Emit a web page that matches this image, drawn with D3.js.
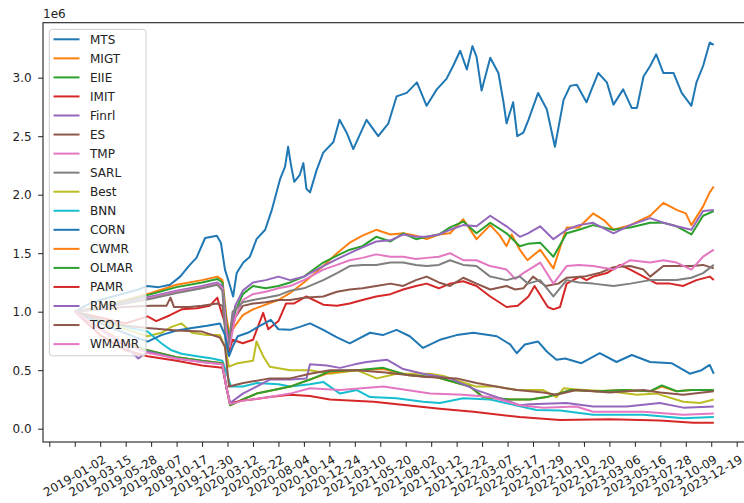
<!DOCTYPE html>
<html>
<head>
<meta charset="utf-8">
<script src="https://cdn.jsdelivr.net/npm/d3@7"></script>
<style>
  body { margin: 0; background: #fff; }
  svg text { font-family: "DejaVu Sans", sans-serif; fill: #222; }
</style>
</head>
<body>
<script>
// portfolio value per strategy, in units of 1e6, keyed by trading-day index
var seriesNames = ['MTS','MIGT','EIIE','IMIT','Finrl','ES','TMP','SARL','Best','BNN','CORN','CWMR','OLMAR','PAMR','RMR','TCO1','WMAMR']

var dateLabels = ['2019-01-02','2019-03-15','2019-05-28','2019-08-07','2019-10-17','2019-12-30','2020-03-12','2020-05-22','2020-08-04','2020-10-14','2020-12-24','2021-03-10','2021-05-20','2021-08-02','2021-10-12','2021-12-22','2022-03-07','2022-05-17','2022-07-29','2022-10-10','2022-12-20','2023-03-06','2023-05-16','2023-07-28','2023-10-09','2023-12-19']

var yTicks = [0, 0.5, 1.0, 1.5, 2.0, 2.5, 3.0]

var MTS = [[0,1.00],[25,1.06],[50,1.10],[75,1.13],[100,1.16],[125,1.19],[142,1.22],[165,1.21],[187,1.23],[207,1.30],[226,1.40],[239,1.46],[256,1.63],[279,1.65],[287,1.59],[295,1.36],[305,1.22],[311,1.13],[318,1.33],[331,1.42],[344,1.47],[357,1.62],[374,1.70],[387,1.87],[403,2.13],[413,2.24],[419,2.41],[424,2.27],[431,2.11],[442,2.17],[449,2.27],[455,2.05],[462,2.02],[475,2.21],[488,2.36],[508,2.45],[520,2.64],[534,2.53],[547,2.39],[573,2.64],[596,2.50],[616,2.61],[632,2.84],[652,2.87],[672,2.96],[691,2.76],[711,2.90],[730,2.99],[743,3.10],[757,3.23],[770,3.07],[781,3.27],[789,3.18],[799,2.89],[816,3.17],[832,3.04],[842,2.79],[848,2.61],[861,2.79],[869,2.50],[881,2.53],[891,2.64],[910,2.87],[927,2.73],[943,2.41],[960,2.81],[973,2.93],[986,2.94],[1005,2.79],[1015,2.90],[1028,3.04],[1045,2.96],[1058,2.77],[1077,2.90],[1094,2.74],[1104,2.74],[1117,3.01],[1130,3.10],[1142,3.20],[1156,3.04],[1176,3.04],[1192,2.87],[1211,2.76],[1221,2.96],[1234,3.10],[1247,3.30],[1255,3.28]]
var MIGT = [[0,1.00],[50,1.05],[100,1.10],[150,1.16],[200,1.23],[250,1.27],[280,1.30],[290,1.27],[298,0.95],[304,0.80],[315,0.88],[330,0.97],[350,1.02],[375,1.06],[400,1.10],[423,1.16],[450,1.25],[488,1.39],[515,1.50],[540,1.59],[565,1.65],[592,1.70],[620,1.66],[645,1.67],[670,1.65],[691,1.62],[715,1.66],[737,1.67],[763,1.79],[789,1.62],[816,1.74],[835,1.65],[848,1.56],[858,1.66],[874,1.53],[889,1.44],[914,1.53],[940,1.37],[966,1.72],[990,1.72],[1018,1.84],[1040,1.78],[1058,1.70],[1091,1.74],[1130,1.82],[1156,1.93],[1182,1.87],[1200,1.84],[1211,1.74],[1234,1.90],[1247,2.02],[1255,2.07]]
var EIIE = [[0,1.00],[50,1.04],[100,1.09],[150,1.15],[200,1.21],[250,1.25],[280,1.28],[290,1.25],[298,0.90],[304,0.75],[315,1.00],[330,1.15],[350,1.22],[375,1.20],[400,1.22],[423,1.25],[450,1.30],[488,1.42],[515,1.48],[540,1.53],[565,1.56],[592,1.64],[620,1.60],[645,1.67],[670,1.62],[691,1.64],[715,1.66],[737,1.72],[763,1.77],[789,1.67],[816,1.76],[848,1.67],[874,1.56],[890,1.58],[914,1.59],[940,1.47],[966,1.67],[990,1.70],[1018,1.74],[1058,1.70],[1091,1.72],[1130,1.76],[1156,1.76],[1182,1.73],[1211,1.66],[1234,1.82],[1255,1.86]]
var IMIT = [[0,1.00],[50,0.95],[100,0.90],[143,0.96],[160,0.92],[187,0.97],[210,1.02],[240,1.03],[265,1.05],[280,1.12],[285,1.04],[295,0.90],[302,0.65],[310,0.76],[330,0.73],[350,0.76],[370,0.99],[380,0.85],[400,0.92],[415,1.07],[430,1.07],[455,1.13],[488,1.06],[515,1.05],[540,1.07],[565,1.10],[592,1.13],[620,1.15],[645,1.19],[670,1.22],[691,1.24],[715,1.20],[737,1.24],[763,1.26],[789,1.22],[816,1.13],[848,1.04],[870,1.05],[891,1.13],[903,1.22],[916,1.13],[929,1.04],[940,1.02],[953,1.04],[966,1.24],[979,1.27],[992,1.30],[1005,1.27],[1018,1.30],[1045,1.33],[1071,1.40],[1091,1.36],[1117,1.30],[1143,1.24],[1169,1.24],[1195,1.22],[1221,1.27],[1247,1.30],[1255,1.27]]
var Finrl = [[0,1.00],[50,1.03],[100,1.08],[150,1.13],[200,1.18],[250,1.22],[280,1.25],[290,1.22],[298,0.85],[304,0.72],[315,1.05],[330,1.18],[350,1.25],[375,1.27],[400,1.30],[423,1.27],[450,1.30],[488,1.39],[515,1.45],[540,1.50],[565,1.55],[592,1.60],[620,1.61],[645,1.66],[670,1.64],[691,1.64],[715,1.66],[737,1.70],[763,1.74],[789,1.73],[816,1.82],[848,1.73],[874,1.64],[890,1.67],[914,1.73],[940,1.62],[966,1.70],[990,1.74],[1018,1.76],[1058,1.67],[1091,1.74],[1130,1.80],[1156,1.76],[1182,1.73],[1211,1.70],[1234,1.86],[1255,1.87]]
var ES = [[0,1.00],[50,1.02],[100,1.04],[150,1.05],[180,1.05],[188,1.12],[195,1.04],[225,1.04],[250,1.05],[280,1.07],[290,1.05],[298,0.80],[304,0.75],[315,0.95],[330,1.05],[350,1.07],[375,1.08],[400,1.10],[423,1.10],[450,1.12],[488,1.13],[515,1.17],[540,1.19],[565,1.20],[592,1.22],[620,1.24],[645,1.22],[670,1.27],[691,1.30],[715,1.25],[737,1.22],[763,1.29],[789,1.24],[816,1.19],[848,1.22],[865,1.19],[881,1.20],[900,1.30],[925,1.22],[950,1.24],[966,1.29],[1000,1.30],[1030,1.33],[1058,1.38],[1091,1.39],[1117,1.36],[1130,1.30],[1156,1.39],[1182,1.39],[1211,1.39],[1234,1.40],[1255,1.37]]
var TMP = [[0,1.00],[50,1.03],[100,1.07],[150,1.12],[200,1.17],[250,1.21],[280,1.24],[290,1.20],[298,0.80],[304,0.70],[315,0.95],[330,1.10],[350,1.15],[375,1.17],[400,1.20],[423,1.22],[450,1.27],[488,1.36],[515,1.40],[540,1.44],[565,1.46],[592,1.49],[620,1.47],[645,1.47],[670,1.45],[691,1.46],[715,1.47],[737,1.50],[763,1.44],[789,1.44],[816,1.39],[848,1.36],[865,1.28],[881,1.33],[914,1.42],[940,1.24],[966,1.39],[990,1.40],[1018,1.39],[1058,1.36],[1091,1.44],[1130,1.42],[1156,1.44],[1182,1.42],[1211,1.36],[1234,1.47],[1255,1.53]]
var SARL = [[0,1.00],[50,1.03],[100,1.07],[150,1.11],[200,1.16],[250,1.20],[280,1.23],[290,1.18],[298,0.62],[303,0.75],[310,1.00],[330,1.08],[350,1.10],[375,1.12],[400,1.14],[423,1.18],[450,1.20],[488,1.27],[515,1.33],[540,1.39],[565,1.40],[592,1.40],[620,1.42],[645,1.42],[670,1.40],[691,1.39],[715,1.40],[737,1.44],[763,1.40],[789,1.39],[816,1.30],[848,1.27],[874,1.30],[890,1.24],[914,1.27],[940,1.13],[966,1.27],[990,1.25],[1018,1.24],[1058,1.22],[1091,1.24],[1130,1.27],[1156,1.27],[1182,1.27],[1211,1.29],[1234,1.33],[1255,1.40]]
var Best = [[0,1.00],[50,0.92],[100,0.85],[143,0.79],[170,0.82],[190,0.87],[210,0.90],[230,0.82],[260,0.80],[285,0.80],[295,0.70],[303,0.53],[320,0.56],[350,0.58],[357,0.745],[370,0.62],[383,0.53],[423,0.50],[462,0.50],[501,0.47],[554,0.50],[593,0.43],[632,0.47],[698,0.47],[724,0.45],[789,0.36],[829,0.36],[868,0.33],[920,0.33],[946,0.27],[960,0.345],[999,0.33],[1051,0.32],[1104,0.29],[1143,0.30],[1195,0.23],[1228,0.22],[1255,0.25]]
var BNN = [[0,1.00],[50,0.93],[100,0.87],[143,0.83],[170,0.73],[190,0.67],[210,0.64],[240,0.62],[270,0.60],[290,0.58],[300,0.45],[307,0.36],[330,0.36],[357,0.39],[400,0.38],[423,0.36],[462,0.38],[488,0.40],[521,0.30],[554,0.33],[580,0.27],[632,0.26],[684,0.23],[717,0.22],[763,0.26],[816,0.25],[855,0.21],[907,0.16],[953,0.155],[1018,0.12],[1117,0.12],[1195,0.09],[1255,0.10]]
var CORN = [[0,1.00],[40,0.92],[80,0.85],[120,0.78],[143,0.745],[170,0.80],[200,0.84],[230,0.86],[260,0.88],[285,0.90],[295,0.80],[303,0.62],[310,0.70],[320,0.79],[340,0.82],[360,0.87],[385,0.93],[400,0.85],[423,0.845],[442,0.87],[462,0.90],[488,0.845],[515,0.78],[540,0.73],[580,0.82],[605,0.80],[632,0.845],[658,0.79],[684,0.69],[717,0.76],[750,0.80],[783,0.82],[829,0.79],[855,0.72],[868,0.645],[884,0.72],[910,0.745],[927,0.66],[946,0.59],[963,0.60],[995,0.56],[1031,0.645],[1064,0.57],[1094,0.63],[1130,0.57],[1172,0.56],[1208,0.47],[1231,0.50],[1247,0.545],[1255,0.47]]
var CWMR = [[0,1.00],[50,0.86],[100,0.73],[143,0.67],[200,0.61],[250,0.58],[290,0.56],[298,0.35],[305,0.20],[330,0.25],[357,0.30],[400,0.34],[423,0.36],[462,0.42],[501,0.48],[554,0.50],[606,0.51],[652,0.46],[711,0.44],[776,0.36],[802,0.27],[855,0.25],[894,0.25],[927,0.27],[973,0.33],[1025,0.32],[1077,0.33],[1130,0.32],[1153,0.36],[1182,0.32],[1211,0.33],[1255,0.33]]
var OLMAR = [[0,1.00],[50,0.85],[100,0.72],[143,0.67],[200,0.61],[250,0.58],[290,0.56],[298,0.35],[305,0.20],[330,0.25],[357,0.30],[400,0.34],[423,0.36],[462,0.42],[501,0.49],[554,0.50],[606,0.52],[652,0.46],[711,0.44],[776,0.36],[802,0.27],[855,0.25],[894,0.25],[927,0.27],[973,0.33],[1025,0.32],[1077,0.33],[1130,0.32],[1153,0.37],[1182,0.32],[1211,0.33],[1255,0.33]]
var PAMR = [[0,1.00],[50,0.80],[100,0.67],[143,0.62],[200,0.58],[250,0.54],[290,0.52],[298,0.35],[305,0.22],[330,0.24],[383,0.27],[423,0.29],[462,0.28],[501,0.25],[587,0.23],[652,0.20],[717,0.17],[783,0.145],[874,0.10],[953,0.075],[1051,0.08],[1149,0.07],[1215,0.05],[1255,0.05]]
var RMR = [[0,1.00],[50,0.85],[100,0.70],[125,0.60],[143,0.66],[200,0.60],[250,0.57],[290,0.55],[298,0.35],[305,0.22],[330,0.30],[357,0.36],[383,0.42],[423,0.42],[455,0.43],[462,0.55],[495,0.54],[521,0.52],[550,0.55],[573,0.57],[613,0.59],[645,0.51],[684,0.47],[737,0.43],[789,0.33],[842,0.25],[874,0.20],[894,0.21],[966,0.22],[1018,0.19],[1084,0.19],[1149,0.22],[1195,0.18],[1255,0.19]]
var TCO1 = [[0,1.00],[50,0.93],[100,0.88],[143,0.86],[200,0.84],[250,0.83],[285,0.78],[295,0.70],[303,0.36],[331,0.39],[383,0.43],[423,0.43],[462,0.47],[501,0.50],[554,0.50],[610,0.48],[684,0.445],[750,0.43],[789,0.39],[868,0.33],[920,0.31],[946,0.29],[985,0.33],[1051,0.31],[1117,0.33],[1150,0.31],[1195,0.29],[1255,0.32]]
var WMAMR = [[0,1.00],[50,0.85],[100,0.72],[143,0.65],[200,0.60],[250,0.57],[290,0.55],[298,0.35],[305,0.21],[330,0.24],[383,0.27],[423,0.30],[462,0.345],[521,0.33],[606,0.36],[652,0.33],[698,0.30],[763,0.29],[816,0.27],[874,0.20],[920,0.18],[985,0.19],[1018,0.145],[1117,0.145],[1195,0.12],[1255,0.13]]

var seriesValues = [MTS,MIGT,EIIE,IMIT,Finrl,ES,TMP,SARL,Best,BNN,CORN,CWMR,OLMAR,PAMR,RMR,TCO1,WMAMR]

var width = 744,
	height = 503,
	plot = {left:43, top:22.7, right:747, bottom:442},
	fs = 12

var svg = d3.select('body')
	.append('svg')
	.attr('width',width)
	.attr('height',height)

var color = d3.scaleOrdinal()
	.domain(seriesNames)
	.range(d3.schemeCategory10)

// x is the trading day index; ticks every 50 days
var escalaX = d3.scaleLinear()
	.domain([-50,1300])
	.range([49.3,736.7])

var escalaY = d3.scaleLinear()
	.domain([0,3])
	.range([428.7,77.7])

svg.append('clipPath')
	.attr('id','clip')
	.append('rect')
	.attr('x',plot.left)
	.attr('y',plot.top)
	.attr('width',plot.right-plot.left)
	.attr('height',plot.bottom-plot.top)

var linea = d3.line()
	.x(d=>escalaX(d[0]))
	.y(d=>escalaY(d[1]))

svg.append('g')
	.attr('clip-path','url(#clip)')
	.selectAll('path')
	.data(seriesValues).enter()
	.append('path')
	.attr('d',linea)
	.attr('fill','none')
	.attr('stroke',(d,i)=>color(seriesNames[i]))
	.attr('stroke-width',2)
	.attr('stroke-linejoin','round')

// axes
var xTickVals = d3.range(-50,1301,50)
var ejeX = d3.axisBottom(escalaX)
	.tickValues(xTickVals)
	.tickSize(4.9)
	.tickFormat('')

var gx = svg.append('g')
	.attr('transform','translate(0,'+plot.bottom+')')
	.call(ejeX)
gx.select('.domain').remove()
gx.selectAll('line').attr('stroke','#222').attr('stroke-width',1)

svg.append('g')
	.selectAll('text')
	.data(dateLabels).enter()
	.append('text')
	.attr('transform',(d,i)=>'translate('+escalaX(i*50)+','+(plot.bottom+34)+') rotate(-30)')
	.attr('text-anchor','middle')
	.attr('dominant-baseline','central')
	.attr('font-size',fs)
	.text(d=>d)

var ejeY = d3.axisLeft(escalaY)
	.tickValues(yTicks)
	.tickSize(4.9)
	.tickPadding(6.5)
	.tickFormat(d3.format('.1f'))

var gy = svg.append('g')
	.attr('transform','translate('+plot.left+',0)')
	.call(ejeY)
gy.select('.domain').remove()
gy.selectAll('line').attr('stroke','#222').attr('stroke-width',1)
gy.selectAll('text').attr('font-size',fs).attr('font-family','DejaVu Sans').attr('fill','#222')

svg.append('text')
	.attr('x',plot.left)
	.attr('y',18)
	.attr('font-size',fs)
	.text('1e6')

svg.append('rect')
	.attr('x',plot.left)
	.attr('y',plot.top)
	.attr('width',plot.right-plot.left)
	.attr('height',plot.bottom-plot.top)
	.attr('fill','none')
	.attr('stroke','#222')
	.attr('stroke-width',1.1)

// legend
var leg = svg.append('g')

leg.append('rect')
	.attr('x',49.3)
	.attr('y',29.3)
	.attr('width',96.7)
	.attr('height',326.5)
	.attr('rx',3)
	.attr('fill','white')
	.attr('fill-opacity',0.8)
	.attr('stroke','#cccccc')
	.attr('stroke-width',1)

var filas = leg.selectAll('g.fila')
	.data(seriesNames).enter()
	.append('g')
	.attr('class','fila')
	.attr('transform',(d,i)=>'translate(0,'+(39.3+i*19.05)+')')

filas.append('line')
	.attr('x1',53.5)
	.attr('x2',79.5)
	.attr('stroke',d=>color(d))
	.attr('stroke-width',2)

filas.append('text')
	.attr('x',90)
	.attr('dy','0.36em')
	.attr('font-size',fs)
	.text(d=>d)
</script>
</body>
</html>
